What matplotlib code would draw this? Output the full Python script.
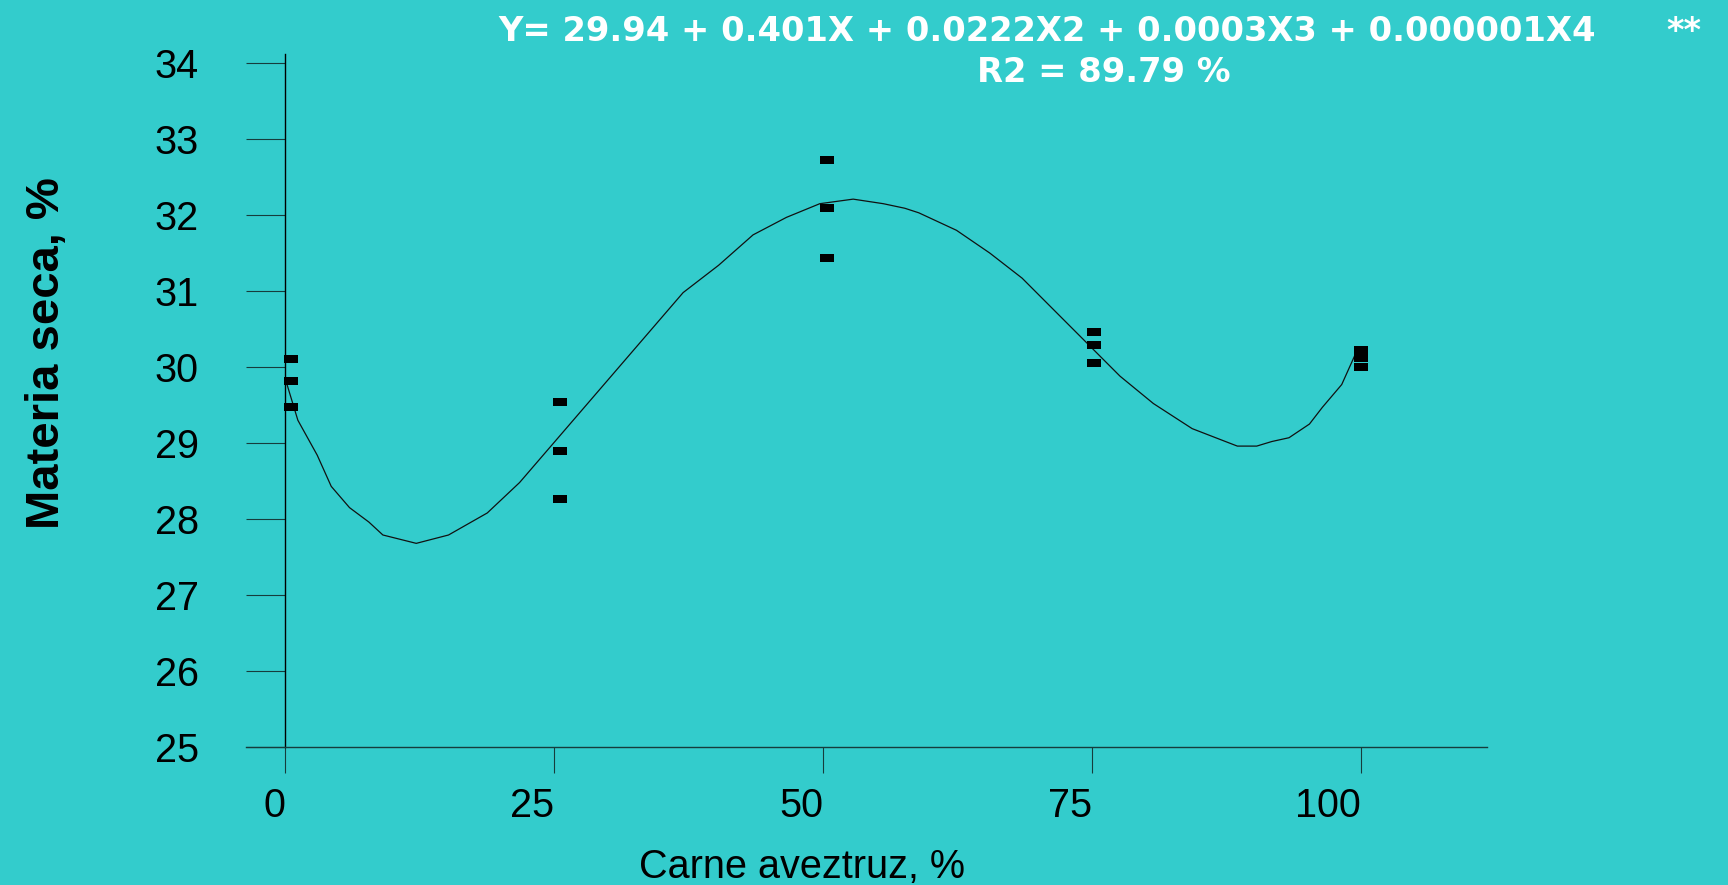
from matplotlib import pyplot as plt
from matplotlib.path import Path
from matplotlib.ticker import FixedLocator

# puntos observados (% carne de avestruz vs materia seca)
carne = [0.6, 0.6, 0.6, 25.6, 25.6, 25.6, 50.4, 50.4, 50.4,
         75.2, 75.2, 75.2, 100, 100, 100]
materia_seca = [30.11, 29.82, 29.47, 29.54, 28.89, 28.26, 32.72, 32.09, 31.44,
                30.46, 30.29, 30.05, 30.23, 30.12, 30.00]

# curva ajustada
ajuste_x = [0.0, 1.2, 3.0, 4.3, 6.0, 7.8, 9.1, 12.2, 15.2, 18.8, 21.8, 37.0,
            40.3, 43.5, 46.6, 49.7, 52.8, 55.6, 57.6, 58.9, 62.4, 65.5, 68.5,
            77.6, 80.7, 84.3, 87.4, 88.5, 90.3, 91.7, 93.3, 95.2, 96.4, 98.2, 99.5]
ajuste_y = [29.86, 29.30, 28.84, 28.43, 28.15, 27.96, 27.79, 27.68, 27.79, 28.08,
            28.48, 30.98, 31.34, 31.74, 31.97, 32.15, 32.21, 32.15, 32.09, 32.03,
            31.80, 31.50, 31.17, 29.88, 29.52, 29.19, 29.02, 28.96, 28.96, 29.02,
            29.07, 29.25, 29.47, 29.77, 30.18]

x_ticks = [0, 25, 50, 75, 100]
y_ticks = [25, 26, 27, 28, 29, 30, 31, 32, 33, 34]

ecuacion = "Y= 29.94 + 0.401X + 0.0222X2 + 0.0003X3 + 0.000001X4"
r2 = "R2 = 89.79 %"

fondo = "#33CCCC"
W, H = 1728, 885

fig = plt.figure(figsize=(W / 100, H / 100), dpi=100, facecolor=fondo)
ax = fig.add_axes([246 / W, 1 - 747 / H, (1487 - 246) / W, (747 - 54) / H])
ax.set_facecolor(fondo)

# marcador rectangular (mas ancho que alto)
rect = Path([(-1, -0.64), (1, -0.64), (1, 0.64), (-1, 0.64), (-1, -0.64)], closed=True)

ax.plot(ajuste_x, ajuste_y, color="#111111", lw=0.9)
ax.plot(carne, materia_seca, ls="none", marker=rect, ms=10.1, mew=0, color="black")

ax.set_xlim(-3.62, 111.7)
ax.set_ylim(25, 34.12)

for s in ["top", "right"]:
    ax.spines[s].set_visible(False)
ax.spines["left"].set_position(("data", 0))
ax.spines["left"].set_linewidth(1.0)
ax.spines["bottom"].set_linewidth(1.0)
ax.spines["bottom"].set_color("#163c3c")

ax.xaxis.set_major_locator(FixedLocator(x_ticks))
ax.yaxis.set_major_locator(FixedLocator(y_ticks))
ax.tick_params(axis="y", direction="out", length=28, width=0.8, color="#163c3c",
               pad=34, labelsize=28.5)
ax.tick_params(axis="x", direction="out", length=18.7, width=0.8, color="#163c3c",
               pad=10, labelsize=28.5)
for lab in ax.get_xticklabels() + ax.get_yticklabels():
    lab.set_fontfamily("Liberation Sans")
for lab in ax.get_xticklabels():
    lab.set_horizontalalignment("right")

# textos
fig.text(639 / W, 1 - 878 / H, "Carne aveztruz, %", fontsize=28.5,
         family="Liberation Sans", ha="left", va="baseline")
fig.text(47 / W, 1 - 353 / H, "Materia seca, %", fontsize=34, rotation=90,
         family="Liberation Sans", weight="bold", ha="center", va="center")

fig.text(498 / W, 1 - 41 / H, ecuacion, fontsize=24.3, weight="bold",
         color="white", family="DejaVu Sans", ha="left", va="baseline")
fig.text(1104 / W, 1 - 82 / H, r2, fontsize=24.3, weight="bold",
         color="white", family="DejaVu Sans", ha="center", va="baseline")
fig.text(1666 / W, 1 - 41 / H, "**", fontsize=24.3, weight="bold",
         color="white", family="DejaVu Sans", ha="left", va="baseline")

plt.savefig("out.png", facecolor=fondo)
